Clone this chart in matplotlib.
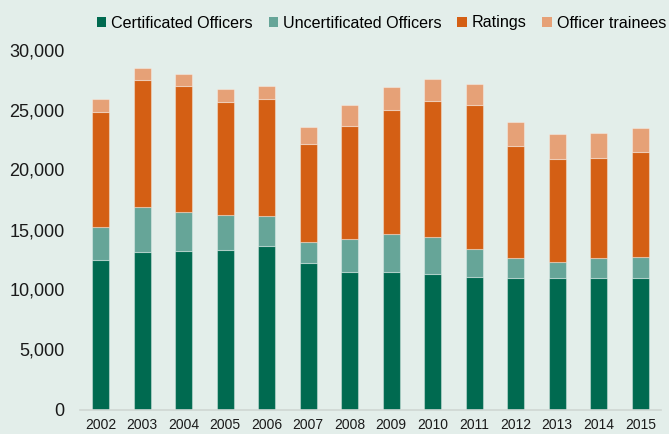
import numpy as np
import matplotlib.pyplot as plt
from matplotlib.patches import Patch

plt.rcParams['font.family'] = ['Liberation Sans', 'DejaVu Sans']

years = ['2002', '2003', '2004', '2005', '2006', '2007', '2008',
         '2009', '2010', '2011', '2012', '2013', '2014', '2015']
certificated = [12450, 13150, 13200, 13300, 13650, 12200, 11500,
                11450, 11300, 11050, 10950, 10950, 10950, 10950]
uncertificated = [2800, 3750, 3250, 2950, 2500, 1750, 2750,
                  3150, 3050, 2350, 1700, 1350, 1700, 1750]
ratings = [9550, 10550, 10500, 9350, 9750, 8150, 9350,
           10400, 11350, 11950, 9350, 8600, 8350, 8800]
trainees = [1050, 1000, 1000, 1100, 1100, 1450, 1750,
            1900, 1850, 1800, 1950, 2050, 2050, 2000]

series = [
    ('Certificated Officers', certificated, '#006a50'),
    ('Uncertificated Officers', uncertificated, '#66a598'),
    ('Ratings', ratings, '#d45f14'),
    ('Officer trainees', trainees, '#e6a177'),
]

bg = '#e3eeea'
fig = plt.figure(figsize=(6.69, 4.34), dpi=100, facecolor=bg)
ax = fig.add_axes([80 / 669, 24.5 / 434, 581 / 669, 360 / 434], facecolor=bg)

x = np.arange(len(years))
bottom = np.zeros(len(years))
handles = []
for name, vals, col in series:
    ax.bar(x, vals, width=0.41, bottom=bottom, color=col,
           edgecolor=(1, 1, 1, 0.35), linewidth=0.8)
    bottom += np.array(vals)
    handles.append(Patch(facecolor=col, label=name))

ax.set_ylim(0, 30000)
ax.set_xlim(-0.5, 13.5)
ax.set_yticks(np.arange(0, 30001, 5000))
ax.set_yticklabels([f'{v:,}' for v in range(0, 30001, 5000)], fontsize=13, color='#1a1a1a')
ax.set_xticks(x)
ax.set_xticklabels(years, fontsize=10, color='#1a1a1a')
ax.tick_params(axis='y', length=0, pad=11)
ax.tick_params(axis='x', length=0, pad=6)
for s in ['top', 'right', 'left']:
    ax.spines[s].set_visible(False)
ax.spines['bottom'].set_color('#cfd6d3')
ax.spines['bottom'].set_linewidth(1.2)

fig.legend(handles=handles, loc='center right', bbox_to_anchor=(666 / 669, 1 - 23 / 434),
           ncol=4, frameon=False, fontsize=11.65, handlelength=0.58,
           handleheight=0.58, handletextpad=0.3, columnspacing=0.98,
           borderaxespad=0.0, borderpad=0.0)

fig.savefig('out.png', dpi=100, facecolor=bg)
